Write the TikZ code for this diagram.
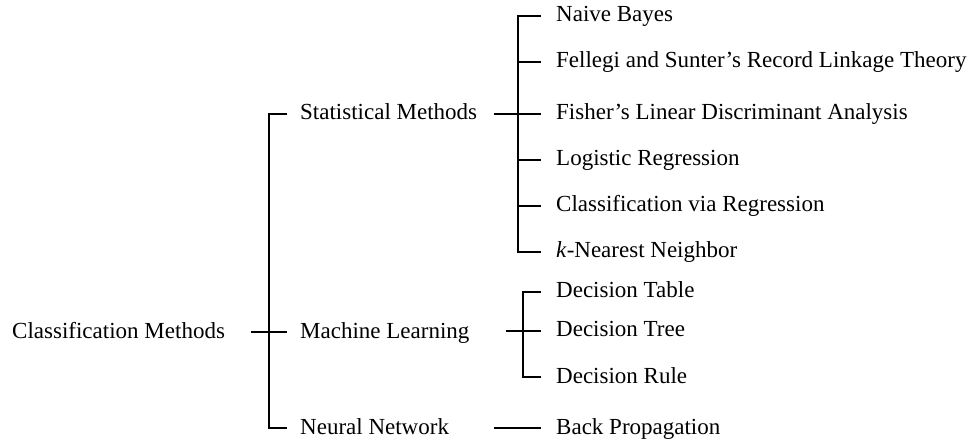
\documentclass[tikz,border=0pt]{standalone}
\usepackage{fontspec}
\setmainfont{Liberation Serif}
\begin{document}
\begin{tikzpicture}[x=1pt,y=-1pt,
  lbl/.style={anchor=west,inner sep=0pt,font=\fontsize{23}{27}\selectfont,text height=16pt,text depth=4pt},
  br/.style={line width=1.3pt},
  stub/.style={line width=2pt}]
\useasboundingbox (0,0) rectangle (971,443);
% level 0
\node[lbl] (cm) at (12,332) {Classification Methods};
% level 1
\node[lbl] (sm) at (300,114) {Statistical Methods};
\node[lbl] (ml) at (300,332) {Machine Learning};
\node[lbl] (nn) at (300,428) {Neural Network};
% level 2: statistical
\node[lbl] (nb) at (556,16) {Naive Bayes};
\node[lbl] (fs) at (556,62) {Fellegi and Sunter’s Record Linkage Theory};
\node[lbl] (fl) at (556,114) {Fisher’s Linear Discriminant Analysis};
\node[lbl] (lr) at (556,160) {Logistic Regression};
\node[lbl] (cr) at (556,206) {Classification via Regression};
\node[lbl] (kn) at (556,252) {\textit{k}-Nearest Neighbor};
% level 2: machine learning
\node[lbl] (dta) at (556,292) {Decision Table};
\node[lbl] (dtr) at (556,331) {Decision Tree};
\node[lbl] (dru) at (556,377) {Decision Rule};
% level 2: neural network
\node[lbl] (bp) at (556,428) {Back Propagation};
% junctions
\coordinate (s0) at (251,332);
\coordinate (j0) at (269,332);
\coordinate (s1) at (494,114);
\coordinate (j1) at (518,114);
\coordinate (s2) at (506,331);
\coordinate (j2) at (523,331);
\coordinate (s3) at (494,428);
% root bracket
\draw[stub] (s0) -- (j0);
\draw[br] ([xshift=-13pt]sm.west) -| (j0) |- ([xshift=-13pt]nn.west);
\draw[br] (j0) -- ([xshift=-13pt]ml.west);
% statistical bracket
\draw[stub] (s1) -- (j1);
\draw[br] ([xshift=-15pt]nb.west) -| (j1) |- ([xshift=-15pt]kn.west);
\foreach \n in {fs,fl,lr,cr}
  \draw[br] (j1 |- \n.west) -- ([xshift=-15pt]\n.west);
% machine learning bracket
\draw[stub] (s2) -- (j2);
\draw[br] ([xshift=-15pt]dta.west) -| (j2) |- ([xshift=-15pt]dru.west);
\draw[br] (j2) -- ([xshift=-15pt]dtr.west);
% neural network
\draw[br] (s3) -- ([xshift=-15pt]bp.west);
\end{tikzpicture}
\end{document}
